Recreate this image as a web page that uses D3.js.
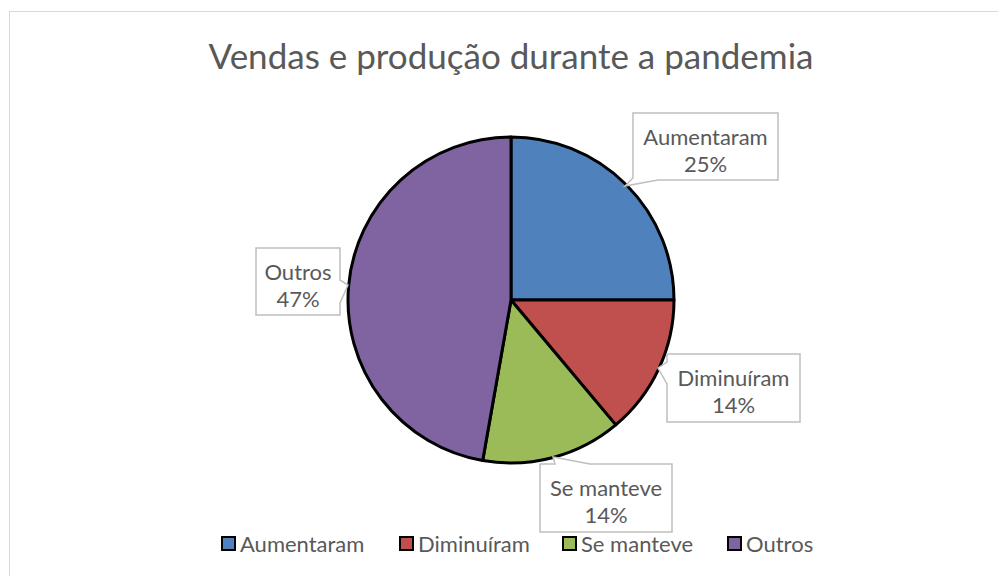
<!DOCTYPE html>
<html>
<head>
<meta charset="utf-8">
<script src="https://cdn.jsdelivr.net/npm/d3@7"></script>
<style>
  body { margin: 0; background: #fff; }
  text { font-family: Lato, "Open Sans", sans-serif; fill: #595959; }
</style>
</head>
<body>
<div id="chart"></div>
<script>
// Pie chart: vendas e produção durante a pandemia
const categories = ["Aumentaram", "Diminuíram", "Se manteve", "Outros"];
const values = [18, 10, 10, 34];
const colors = ["#4F81BD", "#C0504D", "#9BBB59", "#8064A2"];

// callout boxes [x, y, w, h] and pointer tips, one per slice
const boxes = [[633, 113, 145, 67], [667, 354, 133, 68], [540, 464, 132, 68], [256, 248, 84, 67]];
const tips = [[625, 186], [658, 368], [553, 457], [348, 285]];

const width = 998, height = 576;
const cx = 511, cy = 300, radius = 163;

let svg = d3.select("#chart")
  .append("svg")
  .attr("width", width)
  .attr("height", height);

// chart area border
svg.append("rect")
  .attr("x", 9.5).attr("y", 11.5)
  .attr("width", 1000).attr("height", 600)
  .attr("fill", "#fff")
  .attr("stroke", "#D9D9D9")
  .attr("stroke-width", 1);

svg.append("text")
  .attr("x", 511)
  .attr("y", 69)
  .attr("text-anchor", "middle")
  .style("font-size", "35px")
  .text("Vendas e produção durante a pandemia");

let total = d3.sum(values);
let pct = d3.format(".0%");

let pie = d3.pie().sort(null).value(d => d)(values);
let arc = d3.arc().innerRadius(0).outerRadius(radius);

let g = svg.append("g").attr("transform", "translate(" + cx + "," + cy + ")");

g.selectAll("path")
  .data(pie)
  .enter().append("path")
  .attr("d", arc)
  .attr("fill", (d, i) => colors[i])
  .attr("stroke", "#000")
  .attr("stroke-width", 3)
  .attr("stroke-linejoin", "round");

// callout shape: rectangle with a wedge pointing at the tip
function callout(b, t) {
  let [x, y, w, h] = b;
  let [tx, ty] = t;
  let x2 = x + w, y2 = y + h;
  if (ty > y2) { // below
    return `M${x},${y}H${x2}V${y2}H${x + 25}L${tx},${ty}L${x},${y2 - 2}Z`;
  } else if (ty < y) { // above
    return `M${x},${y}H${x + 15}L${tx},${ty}L${x + 50},${y}H${x2}V${y2}H${x}Z`;
  } else if (tx < x) { // left
    return `M${x},${y}H${x2}V${y2}H${x}V${ty + 16}L${tx},${ty}L${x},${ty - 6}Z`;
  } else { // right
    return `M${x},${y}H${x2}V${ty - 5}L${tx},${ty}L${x2},${ty + 18}V${y2}H${x}Z`;
  }
}

let labels = svg.selectAll(".callout")
  .data(categories)
  .enter().append("g")
  .attr("class", "callout");

labels.append("path")
  .attr("d", (d, i) => callout(boxes[i], tips[i]))
  .attr("fill", "#fff")
  .attr("stroke", "#BFBFBF")
  .attr("stroke-width", 1.5);

labels.append("text")
  .attr("x", (d, i) => boxes[i][0] + boxes[i][2] / 2)
  .attr("y", (d, i) => boxes[i][1] + 32)
  .attr("text-anchor", "middle")
  .style("font-size", "22px")
  .text(d => d);

labels.append("text")
  .attr("x", (d, i) => boxes[i][0] + boxes[i][2] / 2)
  .attr("y", (d, i) => boxes[i][1] + 59)
  .attr("text-anchor", "middle")
  .style("font-size", "22px")
  .text((d, i) => pct(values[i] / total));

// legend
let legendX = [221, 399, 562, 727];
let legend = svg.selectAll(".legend")
  .data(categories)
  .enter().append("g")
  .attr("class", "legend")
  .attr("transform", (d, i) => "translate(" + legendX[i] + ",536)");

legend.append("rect")
  .attr("x", 1).attr("y", 1)
  .attr("width", 13).attr("height", 13)
  .attr("fill", (d, i) => colors[i])
  .attr("stroke", "#000")
  .attr("stroke-width", 2);

legend.append("text")
  .attr("x", 19)
  .attr("y", 16)
  .style("font-size", "22px")
  .text(d => d);
</script>
</body>
</html>
